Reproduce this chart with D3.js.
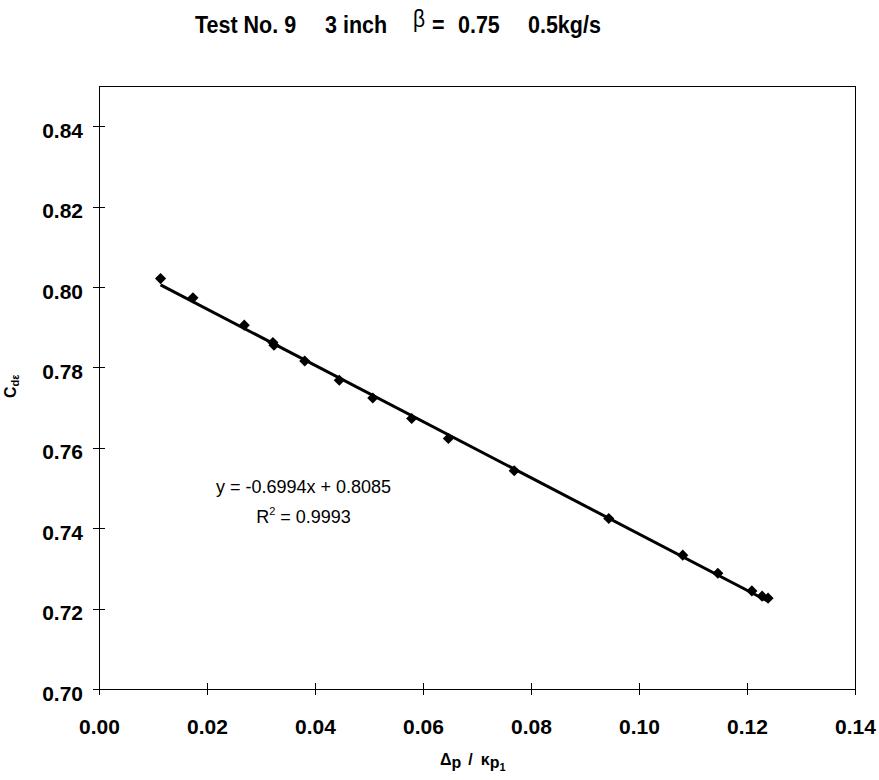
<!DOCTYPE html>
<html>
<head>
<meta charset="utf-8">
<script src="https://cdn.jsdelivr.net/npm/d3@7"></script>
<style>
  body { margin: 0; background: #fff; }
  svg { font-family: "Liberation Sans", Arial, sans-serif; }
  .axis text { font-size: 21px; font-weight: bold; fill: #000; }
  .axis line, .axis path { stroke: #000; stroke-width: 1px; shape-rendering: crispEdges; }
</style>
</head>
<body>
<div id="chart"></div>
<script>
// measured points (dp / kappa p1 , Cd epsilon)
const xValues = [0.0114, 0.0174, 0.0269, 0.0322, 0.0324, 0.0381, 0.0445, 0.0507, 0.0579,
                 0.0647, 0.0769, 0.0944, 0.1081, 0.1146, 0.1209, 0.1228, 0.1239];
const yValues = [0.8021, 0.7973, 0.7905, 0.7862, 0.7855, 0.7816, 0.7768, 0.7724, 0.7673,
                 0.7623, 0.7543, 0.7424, 0.7333, 0.7288, 0.7244, 0.7231, 0.7226];

const xTicks = [0.00, 0.02, 0.04, 0.06, 0.08, 0.10, 0.12, 0.14];
const yTicks = [0.70, 0.72, 0.74, 0.76, 0.78, 0.80, 0.82, 0.84];

// linear trendline
const slope = -0.6994;
const intercept = 0.8085;
const rSquared = 0.9993;

const width = 879;
const height = 780;
const margin = { top: 86, right: 24, bottom: 91, left: 99 };
const mwidth = width - margin.left - margin.right;
const mheight = height - margin.top - margin.bottom;

const svg = d3.select("#chart").append("svg")
    .attr("width", width)
    .attr("height", height);

const xScale = d3.scaleLinear().domain([0, 0.14]).range([0, mwidth]);
const yScale = d3.scaleLinear().domain([0.70, 0.85]).range([mheight, 0]);

const g = svg.append("g")
    .attr("transform", "translate(" + margin.left + "," + margin.top + ")");

// plot frame
g.append("rect")
    .attr("width", mwidth)
    .attr("height", mheight)
    .attr("fill", "none")
    .attr("stroke", "#000")
    .attr("shape-rendering", "crispEdges");

const xAxis = d3.axisBottom(xScale)
    .tickValues(xTicks)
    .tickFormat(d => d.toFixed(2))
    .tickSizeOuter(0);
const yAxis = d3.axisLeft(yScale)
    .tickValues(yTicks)
    .tickFormat(d => d.toFixed(2))
    .tickSizeOuter(0);

const gx = g.append("g")
    .attr("class", "axis")
    .attr("transform", "translate(0," + mheight + ")")
    .call(xAxis);
gx.selectAll(".tick line").attr("y1", -6).attr("y2", 6);
gx.selectAll(".tick text").attr("y", 45).attr("dy", 0);

const gy = g.append("g")
    .attr("class", "axis")
    .call(yAxis);
gy.selectAll(".tick line").attr("x1", -6).attr("x2", 6);
gy.selectAll(".tick text").attr("x", -16).attr("dy", 11);

// data points
const points = xValues.map((x, i) => ({ x: x, y: yValues[i] }));
const diamond = d3.symbol().type(d3.symbolSquare).size(62);

g.selectAll(".pt")
    .data(points)
    .enter().append("path")
    .attr("class", "pt")
    .attr("d", diamond)
    .attr("fill", "#000")
    .attr("transform", d => "translate(" + xScale(d.x) + "," + yScale(d.y) + ") rotate(45)");

// trendline over the range of the data
const xExtent = d3.extent(xValues);
const line = d3.line()
    .x(d => xScale(d))
    .y(d => yScale(slope * d + intercept));
g.append("path")
    .datum(xExtent)
    .attr("d", line)
    .attr("fill", "none")
    .attr("stroke", "#000")
    .attr("stroke-width", 3);

// equation label
const eq = svg.append("text")
    .attr("text-anchor", "middle")
    .style("font-size", "18px");
eq.append("tspan")
    .attr("x", 303.5).attr("y", 493)
    .text("y = " + slope.toFixed(4) + "x + " + intercept.toFixed(4));
const r2 = eq.append("tspan")
    .attr("x", 303.5).attr("y", 522.5);
r2.append("tspan").text("R");
r2.append("tspan").attr("dy", -8).style("font-size", "11px").text("2");
r2.append("tspan").attr("dy", 8).text(" = " + rSquared.toFixed(4));

// title (stretched a little vertically like the original)
const title = svg.append("text")
    .attr("transform", "translate(0,32.5) scale(1,1.15)")
    .style("font-size", "21.5px")
    .style("font-weight", "bold");
title.append("tspan").attr("x", 195).text("Test No. 9");
title.append("tspan").attr("x", 325).text("3 inch");
title.append("tspan").attr("x", 413).attr("dy", -5)
    .style("font-weight", "normal").style("font-size", "21px").text("β");
title.append("tspan").attr("x", 432).attr("dy", 5).text("=");
title.append("tspan").attr("x", 458).text("0.75");
title.append("tspan").attr("x", 528).text("0.5kg/s");

// x axis label
const xl = svg.append("text")
    .attr("x", 440).attr("y", 765)
    .style("font-size", "16px")
    .style("font-weight", "bold");
xl.append("tspan").text("Δ");
xl.append("tspan").attr("dy", 3).text("p");
xl.append("tspan").attr("dy", -3).attr("dx", 7).text("/");
xl.append("tspan").attr("dx", 8).text("κ");
xl.append("tspan").attr("dy", 3).text("p");
xl.append("tspan").attr("dy", 3).style("font-size", "11px").text("1");

// y axis label
const yl = svg.append("text")
    .attr("transform", "translate(16,398) rotate(-90)")
    .style("font-size", "16px")
    .style("font-weight", "bold");
yl.append("tspan").text("C");
yl.append("tspan").attr("dy", 3).style("font-size", "11px").text("dε");
</script>
</body>
</html>
